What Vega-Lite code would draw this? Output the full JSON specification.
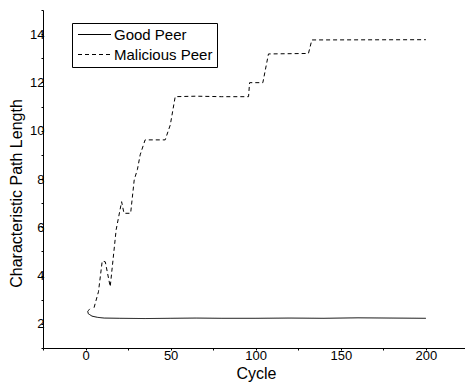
{
  "$schema": "https://vega.github.io/schema/vega-lite/v6.json",
  "autosize": {"type": "none"},
  "padding": {"left": 43, "top": 10, "right": 0, "bottom": 36},
  "width": 422,
  "height": 338,
  "background": "white",
  "config": {
    "font": "Liberation Sans",
    "view": {"stroke": null},
    "axis": {
      "domainColor": "black",
      "tickColor": "black",
      "labelColor": "black",
      "titleColor": "black",
      "grid": false,
      "labelFont": "Liberation Sans",
      "titleFont": "Liberation Sans",
      "labelFontSize": 13,
      "titleFontSize": 16,
      "titleFontWeight": "normal",
      "tickSize": 2,
      "domainWidth": 1,
      "tickWidth": 1
    }
  },
  "data": {
    "values": [
      {"series": "Good Peer", "i": 0, "cycle": 2.5, "value": 2.62},
      {"series": "Good Peer", "i": 1, "cycle": 1.3, "value": 2.52},
      {"series": "Good Peer", "i": 2, "cycle": 1.6, "value": 2.42},
      {"series": "Good Peer", "i": 3, "cycle": 3.8, "value": 2.32},
      {"series": "Good Peer", "i": 4, "cycle": 7, "value": 2.27},
      {"series": "Good Peer", "i": 5, "cycle": 11, "value": 2.24},
      {"series": "Good Peer", "i": 6, "cycle": 20, "value": 2.23},
      {"series": "Good Peer", "i": 7, "cycle": 35, "value": 2.22},
      {"series": "Good Peer", "i": 8, "cycle": 50, "value": 2.23},
      {"series": "Good Peer", "i": 9, "cycle": 65, "value": 2.24},
      {"series": "Good Peer", "i": 10, "cycle": 80, "value": 2.23},
      {"series": "Good Peer", "i": 11, "cycle": 100, "value": 2.23},
      {"series": "Good Peer", "i": 12, "cycle": 120, "value": 2.24},
      {"series": "Good Peer", "i": 13, "cycle": 140, "value": 2.23},
      {"series": "Good Peer", "i": 14, "cycle": 160, "value": 2.25},
      {"series": "Good Peer", "i": 15, "cycle": 180, "value": 2.24},
      {"series": "Good Peer", "i": 16, "cycle": 200, "value": 2.23},
      {"series": "Malicious Peer", "i": 0, "cycle": 5, "value": 2.67},
      {"series": "Malicious Peer", "i": 1, "cycle": 7.6, "value": 3.33},
      {"series": "Malicious Peer", "i": 2, "cycle": 9.8, "value": 4.6},
      {"series": "Malicious Peer", "i": 3, "cycle": 11.6, "value": 4.57},
      {"series": "Malicious Peer", "i": 4, "cycle": 14.5, "value": 3.54},
      {"series": "Malicious Peer", "i": 5, "cycle": 18, "value": 5.9},
      {"series": "Malicious Peer", "i": 6, "cycle": 21.2, "value": 7.06},
      {"series": "Malicious Peer", "i": 7, "cycle": 22.6, "value": 6.58},
      {"series": "Malicious Peer", "i": 8, "cycle": 26.5, "value": 6.58},
      {"series": "Malicious Peer", "i": 9, "cycle": 28.6, "value": 7.96},
      {"series": "Malicious Peer", "i": 10, "cycle": 30.5, "value": 8.4},
      {"series": "Malicious Peer", "i": 11, "cycle": 32.1, "value": 9.0},
      {"series": "Malicious Peer", "i": 12, "cycle": 35, "value": 9.62},
      {"series": "Malicious Peer", "i": 13, "cycle": 46.8, "value": 9.62},
      {"series": "Malicious Peer", "i": 14, "cycle": 49.8, "value": 10.24},
      {"series": "Malicious Peer", "i": 15, "cycle": 52.7, "value": 11.41},
      {"series": "Malicious Peer", "i": 16, "cycle": 65, "value": 11.43},
      {"series": "Malicious Peer", "i": 17, "cycle": 80, "value": 11.41},
      {"series": "Malicious Peer", "i": 18, "cycle": 95.8, "value": 11.41},
      {"series": "Malicious Peer", "i": 19, "cycle": 96.4, "value": 11.99},
      {"series": "Malicious Peer", "i": 20, "cycle": 104.2, "value": 11.99},
      {"series": "Malicious Peer", "i": 21, "cycle": 107.5, "value": 13.18},
      {"series": "Malicious Peer", "i": 22, "cycle": 131, "value": 13.2},
      {"series": "Malicious Peer", "i": 23, "cycle": 133, "value": 13.76},
      {"series": "Malicious Peer", "i": 24, "cycle": 200, "value": 13.77}
    ]
  },
  "mark": {"type": "line", "color": "black", "strokeWidth": 1, "interpolate": "linear"},
  "encoding": {
    "x": {
      "field": "cycle",
      "type": "quantitative",
      "scale": {"domain": [-25, 223], "nice": false, "zero": false},
      "axis": {
        "title": "Cycle",
        "values": [-25, 0, 25, 50, 75, 100, 125, 150, 175, 200],
        "labelExpr": "datum.value % 50 == 0 ? datum.label : ''",
        "labelPadding": -1,
        "labelFlush": false,
        "titleX": 213,
        "titleY": 30,
        "titleBaseline": "alphabetic"
      }
    },
    "y": {
      "field": "value",
      "type": "quantitative",
      "scale": {"domain": [1, 15], "nice": false, "zero": false},
      "axis": {
        "title": "Characteristic Path Length",
        "values": [1, 2, 3, 4, 5, 6, 7, 8, 9, 10, 11, 12, 13, 14, 15],
        "labelExpr": "datum.value % 2 == 0 ? datum.label : ''",
        "labelPadding": -3,
        "labelFlush": false,
        "titleX": -21.5,
        "titleY": 183,
        "titleAngle": -90,
        "titleAlign": "center",
        "titleBaseline": "alphabetic"
      }
    },
    "strokeDash": {
      "field": "series",
      "type": "nominal",
      "scale": {"domain": ["Good Peer", "Malicious Peer"], "range": [[1, 0], [4, 3]]},
      "legend": {
        "title": null,
        "orient": "none",
        "legendX": 29,
        "legendY": 13,
        "strokeColor": "black",
        "fillColor": "white",
        "padding": 4,
        "symbolType": "M-1,0H5",
        "symbolSize": 121,
        "symbolStrokeColor": "black",
        "symbolStrokeWidth": 1,
        "symbolFillColor": "transparent",
        "labelFontSize": 15,
        "labelFont": "Liberation Sans",
        "labelColor": "black",
        "labelOffset": 23,
        "rowPadding": 4
      }
    },
    "order": {"field": "i", "type": "quantitative"}
  }
}
